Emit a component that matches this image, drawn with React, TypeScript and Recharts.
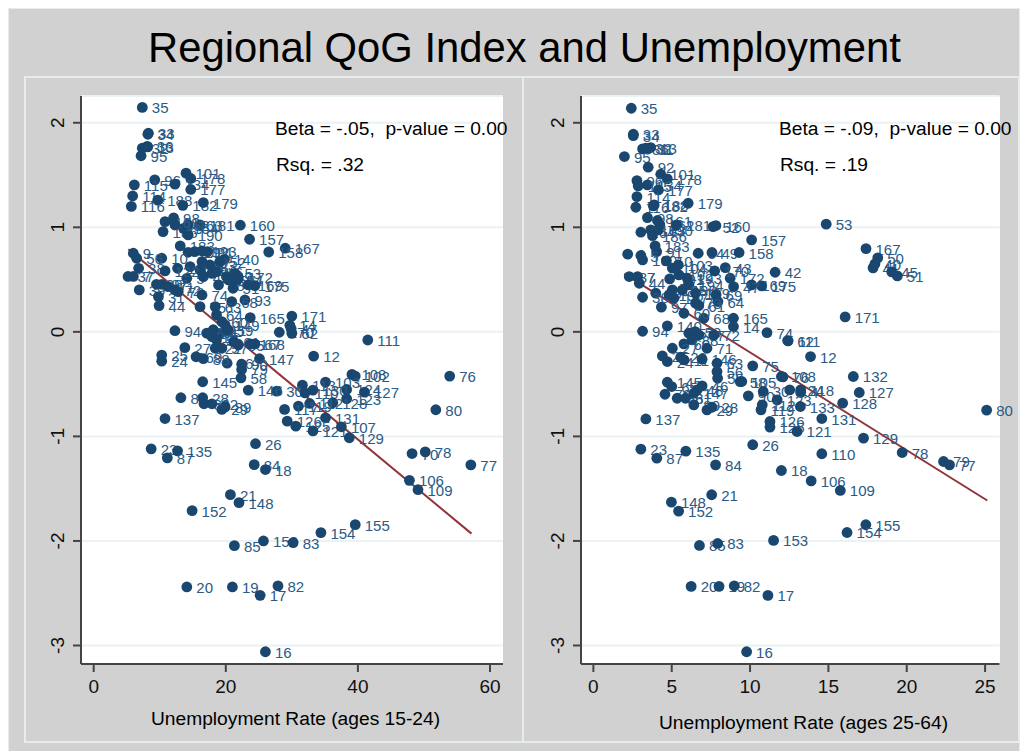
import { CartesianGrid, ReferenceLine, Scatter, ScatterChart, XAxis, YAxis } from "recharts";

const NAVY = "#1a476f";
const MAROON = "#90353b";
const PANEL_GREY = "#d1d1d1";
const RULE = "#e4ecec";

const qogTicks = [-3, -2, -1, 0, 1, 2];
const youthTicks = [0, 20, 40, 60];
const primeTicks = [0, 5, 10, 15, 20, 25];

// Left panel: unemployment ages 15-24
const youthIds = [
  35, 33, 34, 32, 36, 13, 95, 101, 178, 96,
  134, 177, 115, 114, 116, 188, 182, 179, 98, 160,
  157, 167, 158, 186, 190, 183, 181, 163, 164, 161,
  162, 191, 192, 193, 91, 140, 10, 100, 104, 5,
  40, 41, 42, 43, 45, 46, 48, 49, 50, 51,
  52, 53, 54, 172, 175, 169, 93, 165, 9, 56,
  38, 37, 7, 39, 99, 97, 122, 44, 31, 71,
  72, 73, 74, 75, 68, 63, 64, 60, 149, 94,
  1, 2, 3, 4, 6, 11, 15, 22, 57, 55,
  59, 61, 65, 67, 168, 170, 171, 14, 62, 47,
  111, 12, 108, 102, 76, 103, 113, 124, 127, 30,
  110, 130, 123, 128, 112, 119, 117, 80, 131, 126,
  125, 121, 107, 129, 70, 78, 77, 147, 25, 24,
  27, 66, 69, 88, 145, 58, 79, 90, 146, 86,
  28, 81, 92, 29, 89, 137, 26, 23, 135, 87,
  84, 18, 106, 109, 21, 148, 152, 155, 154, 153,
  83, 85, 20, 19, 82, 17, 16,
];
const youthRates = [
  7.36, 8.28, 8.2, 7.36, 8.1, 8.18, 7.17, 13.98, 14.7, 9.24,
  12.3, 14.7, 6.15, 5.9, 5.7, 9.7, 13.5, 16.6, 12.1, 22.2,
  23.6, 29, 26.5, 10.5, 14.3, 13.1, 16.1, 14.3, 13.6, 10.8,
  12.3, 14.3, 15.3, 16.4, 17.2, 19.8, 10.3, 12.7, 14.6, 14.1,
  16.4, 16.1, 16.6, 17.6, 17.9, 18.6, 18.9, 20.1, 20.4, 21.1,
  19.1, 21.4, 21.7, 21.9, 24.4, 23.4, 22.9, 23.7, 6, 6.5,
  6.8, 5.2, 6, 6.9, 9.5, 10.3, 10.8, 9.9, 9.8, 11.3,
  12.3, 12.8, 16.4, 16.1, 20.9, 18.4, 18.6, 19.4, 19.9, 12.3,
  20.4, 17.4, 18.1, 19.1, 17.1, 18.1, 17.9, 18.4, 19.4, 18.6,
  20.2, 21.2, 21.9, 24.4, 23.7, 28.1, 30, 29.7, 30, 29.9,
  41.5, 33.3, 39.1, 39.6, 53.9, 35.1, 31.6, 38.3, 41, 27.7,
  32, 33.2, 38.3, 36.2, 32.7, 31, 28.9, 51.8, 35.1, 29.3,
  30.6, 33.2, 37.5, 38.7, 48.2, 50.2, 57.1, 25.1, 10.3, 10.3,
  13.8, 20.2, 15.5, 16.6, 16.5, 22.3, 22.4, 22.4, 23.4, 13.2,
  16.5, 16.7, 17.9, 19.4, 19.9, 10.8, 24.5, 8.7, 12.7, 11.15,
  24.3, 26, 47.8, 49.1, 20.7, 22, 14.9, 39.6, 34.4, 25.7,
  30.2, 21.3, 14.1, 21, 27.9, 25.2, 26,
];
const youthQog = [
  2.147, 1.9, 1.89, 1.757, 1.774, 1.77, 1.684, 1.518, 1.467, 1.454,
  1.413, 1.362, 1.406, 1.3, 1.2, 1.26, 1.21, 1.237, 1.09, 1.02,
  0.886, 0.8, 0.764, 0.959, 0.927, 0.822, 1.023, 1.023, 0.99, 1.055,
  1.023, 0.761, 0.768, 0.774, 0.768, 0.694, 0.704, 0.608, 0.624, 0.512,
  0.672, 0.592, 0.528, 0.64, 0.56, 0.576, 0.449, 0.528, 0.496, 0.417,
  0.672, 0.56, 0.496, 0.52, 0.442, 0.449, 0.305, 0.136, 0.752, 0.704,
  0.608, 0.53, 0.53, 0.401, 0.455, 0.455, 0.583, 0.251, 0.337, 0.433,
  0.401, 0.385, 0.353, 0.241, 0.289, 0.241, 0.162, 0.098, 0.066, 0.011,
  0.018, -0.014, 0, -0.014, -0.013, 0.02, -0.045, -0.157, -0.157, -0.077,
  0.019, -0.093, -0.125, -0.115, -0.115, -0.004, 0.151, 0.062, -0.014, 0.03,
  -0.078, -0.232, -0.407, -0.423, -0.423, -0.481, -0.51, -0.551, -0.577, -0.567,
  -0.583, -0.557, -0.64, -0.678, -0.685, -0.71, -0.742, -0.745, -0.822, -0.854,
  -0.902, -0.947, -0.908, -1.013, -1.164, -1.148, -1.272, -0.257, -0.222, -0.28,
  -0.151, -0.3, -0.238, -0.257, -0.477, -0.44, -0.36, -0.31, -0.557, -0.63,
  -0.63, -0.688, -0.688, -0.742, -0.717, -0.829, -1.07, -1.119, -1.138, -1.205,
  -1.27, -1.317, -1.42, -1.51, -1.557, -1.633, -1.71, -1.844, -1.92, -2,
  -2.016, -2.045, -2.44, -2.44, -2.43, -2.52, -3.06,
];
const youthFitRates = [5.25, 57.2];
const youthFitQog = [0.79, -1.93];

// Right panel: unemployment ages 25-64
const primeIds = [
  35, 33, 34, 36, 32, 13, 31, 95, 92, 101,
  178, 96, 134, 115, 177, 114, 188, 116, 182, 179,
  98, 161, 162, 163, 164, 186, 190, 181, 53, 52,
  160, 157, 183, 91, 9, 5, 100, 54, 49, 158,
  43, 42, 167, 50, 40, 41, 45, 51, 171, 37,
  7, 99, 97, 38, 44, 94, 140, 10, 104, 103,
  191, 192, 193, 194, 195, 196, 197, 198, 199, 172,
  169, 175, 47, 170, 68, 165, 14, 74, 62, 111,
  12, 75, 108, 76, 132, 105, 64, 69, 73, 61,
  60, 59, 57, 67, 88, 66, 71, 72, 27, 25,
  24, 22, 11, 146, 63, 56, 55, 58, 90, 30,
  124, 118, 4, 127, 123, 128, 112, 133, 119, 80,
  131, 126, 125, 121, 129, 26, 110, 78, 79, 77,
  18, 106, 109, 155, 154, 145, 65, 70, 86, 81,
  147, 46, 48, 89, 28, 29, 137, 23, 87, 135,
  84, 21, 148, 152, 85, 83, 153, 20, 19, 82,
  17, 16,
];
const primeRates = [
  2.42, 2.55, 2.55, 3.14, 3.35, 3.66, 3.45, 1.98, 3.5, 4.3,
  4.72, 2.78, 3.45, 2.86, 4.15, 2.78, 3.88, 2.71, 3.83, 6.05,
  3.45, 4.09, 4.24, 3.66, 3.03, 3.77, 4.15, 5.31, 14.86, 7.64,
  7.82, 10.1, 3.94, 4.04, 2.19, 3.03, 3.14, 6.69, 7.57, 9.3,
  8.42, 11.6, 17.4, 18.15, 17.97, 17.85, 19.04, 19.4, 16.07, 2.29,
  2.82, 3.98, 4.34, 3.14, 2.93, 3.14, 4.72, 4.66, 5.04, 5.42,
  4.87, 5.46, 5.99, 6.1, 5.04, 4.83, 5.14, 5.67, 6.52, 8.73,
  10.1, 10.74, 8.95, 7.74, 7.05, 8.94, 8.94, 11.08, 12.4, 12.43,
  13.86, 10.17, 12, 12.1, 16.59, 9.47, 7.95, 7.83, 6.52, 6.73,
  5.78, 6.5, 6.09, 6.73, 6.3, 5.78, 7.25, 7.68, 5.04, 4.4,
  4.72, 5.57, 5.78, 6.94, 7.89, 7.89, 7.93, 9.37, 9.89, 10.84,
  12.53, 13.23, 13.23, 16.97, 11.73, 15.91, 10.78, 13.21, 10.7, 25.1,
  14.58, 11.27, 11.27, 13, 17.24, 10.17, 14.58, 19.71, 22.35, 22.73,
  12, 13.9, 15.76, 17.39, 16.19, 4.72, 5, 4.57, 5.35, 5.88,
  6.41, 6.94, 6.62, 6.41, 7.57, 7.25, 3.35, 3.03, 4.05, 5.9,
  7.8, 7.55, 4.98, 5.44, 6.77, 7.93, 11.5, 6.24, 8.02, 8.99,
  11.14, 9.78,
];
const primeQog = [
  2.139, 1.89, 1.877, 1.75, 1.756, 1.763, 1.747, 1.677, 1.575, 1.508,
  1.463, 1.447, 1.406, 1.396, 1.358, 1.294, 1.214, 1.192, 1.205, 1.23,
  1.093, 1.065, 1.023, 0.975, 0.953, 0.921, 0.975, 1.023, 1.03, 1.007,
  1.017, 0.88, 0.822, 0.768, 0.743, 0.73, 0.689, 0.752, 0.759, 0.759,
  0.615, 0.57, 0.796, 0.708, 0.65, 0.612, 0.574, 0.535, 0.143, 0.529,
  0.529, 0.37, 0.236, 0.331, 0.465, 0.006, 0.057, 0.679, 0.609, 0.64,
  0.507, 0.545, 0.513, 0.45, 0.401, 0.354, 0.322, 0.4, 0.37, 0.513,
  0.45, 0.44, 0.433, 0.583, 0.13, 0.13, 0.051, -0.007, -0.083, -0.086,
  -0.236, -0.325, -0.427, -0.43, -0.427, -0.475, 0.29, 0.354, 0.274, 0.252,
  0.178, 0.003, -0.013, -0.029, -0.077, -0.115, -0.157, -0.029, -0.157, -0.23,
  -0.284, -0.243, -0.268, -0.262, -0.3, -0.38, -0.444, -0.476, -0.612, -0.57,
  -0.555, -0.555, -0.58, -0.58, -0.65, -0.682, -0.698, -0.714, -0.746, -0.749,
  -0.829, -0.857, -0.911, -0.953, -1.017, -1.08, -1.166, -1.154, -1.24, -1.272,
  -1.326, -1.425, -1.517, -1.845, -1.919, -0.482, -0.523, -0.597, -0.635, -0.635,
  -0.587, -0.517, -0.555, -0.699, -0.721, -0.747, -0.833, -1.122, -1.208, -1.141,
  -1.272, -1.558, -1.629, -1.715, -2.043, -2.024, -1.995, -2.435, -2.435, -2.429,
  -2.521, -3.06,
];
const primeFitRates = [1.975, 25.14];
const primeFitQog = [0.555, -1.613];

function Dot(props: any) {
  const { cx, cy, payload } = props;
  return (
    <g>
      <circle cx={cx} cy={cy} r={5.4} fill={NAVY} />
      <text x={cx + 9.5} y={cy + 6} fontSize={15} fill="#2a5a85">
        {payload.id}
      </text>
    </g>
  );
}

function QogTick(props: any) {
  const { x, y, payload } = props;
  return (
    <text
      x={x - 13}
      y={y}
      fontSize={19}
      fill="#111"
      textAnchor="middle"
      transform={`rotate(-90 ${x - 13} ${y})`}
      dominantBaseline="central"
    >
      {payload.value}
    </text>
  );
}

type PanelProps = {
  left: number;
  width: number;
  plotRight: number;
  ids: number[];
  rates: number[];
  qog: number[];
  fitRates: number[];
  fitQog: number[];
  ticks: number[];
  xDomain: [number, number];
};

function Panel({ left, width, plotRight, ids, rates, qog, fitRates, fitQog, ticks, xDomain }: PanelProps) {
  const rows = ids.map((id, i) => ({ id, rate: rates[i], qog: qog[i] }));
  return (
    <div style={{ position: "absolute", left, top: 76 }}>
      {/* white plot region sits under the transparent chart svg */}
      <div
        style={{
          position: "absolute",
          left: 57,
          top: 20,
          width: width - 57 - plotRight,
          height: 568,
          background: "#fff",
        }}
      />
      <div style={{ position: "relative" }}>
        <ScatterChart
          width={width}
          height={665}
          margin={{ top: 20, right: plotRight, bottom: 0, left: 0 }}
        >
          <CartesianGrid vertical={false} stroke="#eaf2f3" strokeWidth={2} />
          <XAxis
            type="number"
            dataKey="rate"
            domain={xDomain}
            ticks={ticks}
            height={77}
            stroke="#444"
            strokeWidth={2}
            tickSize={8}
            tickMargin={8}
            tick={{ fill: "#111", fontSize: 19 }}
          />
          <YAxis
            type="number"
            dataKey="qog"
            domain={[-3.177, 2.256]}
            ticks={qogTicks}
            width={57}
            stroke="#444"
            strokeWidth={2}
            tickSize={8}
            tick={QogTick}
          />
          <Scatter data={rows} shape={Dot} isAnimationActive={false} />
          <ReferenceLine
            segment={[
              { x: fitRates[0], y: fitQog[0] },
              { x: fitRates[1], y: fitQog[1] },
            ]}
            stroke={MAROON}
            strokeWidth={2}
          />
        </ScatterChart>
      </div>
    </div>
  );
}

function Caption({ x, y, size = 19.2, children }: { x: number; y: number; size?: number; children: string }) {
  return (
    <div
      style={{
        position: "absolute",
        left: x,
        top: y,
        fontSize: size,
        lineHeight: 1,
        color: "#000",
        whiteSpace: "pre",
      }}
    >
      {children}
    </div>
  );
}

export default function App() {
  return (
    <div
      style={{
        position: "absolute",
        left: 0,
        top: 0,
        width: 1021,
        height: 751,
        overflow: "hidden",
        background: "#fff",
        fontFamily: "'Liberation Sans', Arial, sans-serif",
      }}
    >
      <div
        style={{
          position: "absolute",
          left: 8,
          top: 8,
          width: 1010,
          height: 743,
          background: PANEL_GREY,
          border: `1px solid ${RULE}`,
        }}
      />
      <div
        style={{
          position: "absolute",
          left: 24,
          top: 76,
          width: 992,
          height: 663,
          border: `2px solid ${RULE}`,
        }}
      />
      <div style={{ position: "absolute", left: 522, top: 76, width: 2, height: 665, background: RULE }} />

      <Panel
        left={24}
        width={498}
        plotRight={19}
        ids={youthIds}
        rates={youthRates}
        qog={youthQog}
        fitRates={youthFitRates}
        fitQog={youthFitQog}
        ticks={youthTicks}
        xDomain={[-1.923, 61.97]}
      />
      <Panel
        left={524}
        width={491}
        plotRight={15.5}
        ids={primeIds}
        rates={primeRates}
        qog={primeQog}
        fitRates={primeFitRates}
        fitQog={primeFitQog}
        ticks={primeTicks}
        xDomain={[-0.79, 25.92]}
      />

      <Caption x={148} y={27} size={41.8}>Regional QoG Index and Unemployment</Caption>
      <Caption x={275} y={119}>Beta = -.05,  p-value = 0.00</Caption>
      <Caption x={276} y={155}>Rsq. = .32</Caption>
      <Caption x={779} y={119}>Beta = -.09,  p-value = 0.00</Caption>
      <Caption x={780} y={155}>Rsq. = .19</Caption>
      <Caption x={151} y={709}>Unemployment Rate (ages 15-24)</Caption>
      <Caption x={659} y={713}>Unemployment Rate (ages 25-64)</Caption>
    </div>
  );
}
